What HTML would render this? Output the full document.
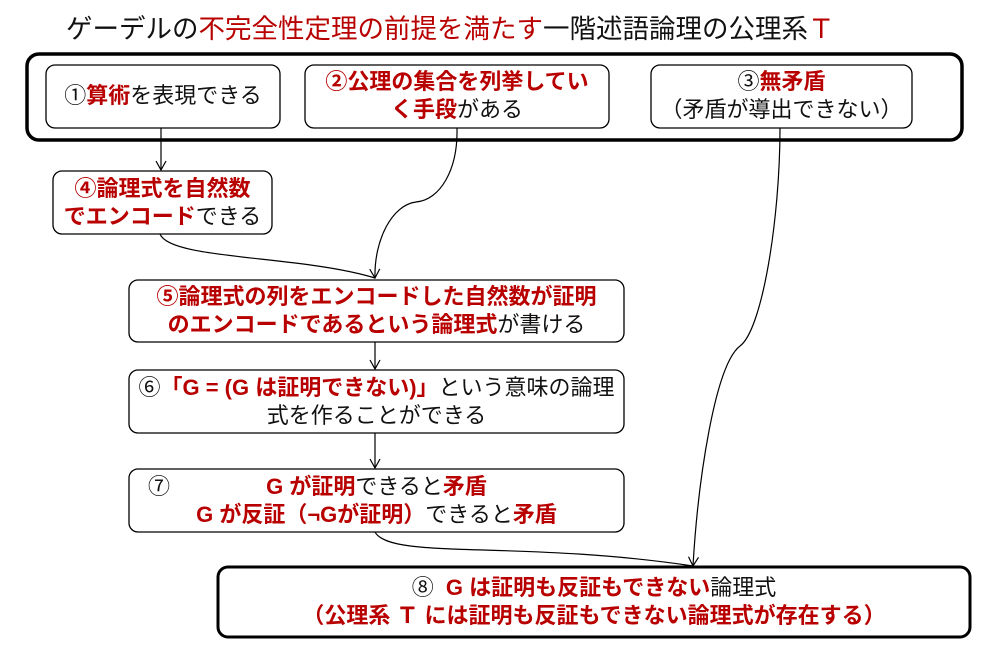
<!DOCTYPE html>
<html><head><meta charset="utf-8">
<style>
html,body{margin:0;padding:0;background:#fff;}
#c{position:relative;width:987px;height:653px;overflow:hidden;font-family:"Liberation Sans","Noto Sans CJK JP",sans-serif;color:#111;}
.t{position:absolute;text-align:center;font-size:22px;line-height:28px;white-space:nowrap;}
.r{color:#b80000;font-weight:bold;}
svg{position:absolute;left:0;top:0;}
</style></head><body><div id="c">
<svg width="987" height="653" viewBox="0 0 987 653">
<defs><marker id="a" markerWidth="12" markerHeight="12" refX="11" refY="6" orient="auto" markerUnits="userSpaceOnUse">
<path d="M2,1 L11,6 L2,11" fill="none" stroke="#000" stroke-width="1.2"/></marker></defs>
<g fill="#fff" stroke="#000">
<rect x="27" y="54" width="935" height="86" rx="12" stroke-width="3.5"/>
<rect x="46" y="65" width="234" height="63" rx="9" stroke-width="1.3"/>
<rect x="305" y="65" width="304" height="63" rx="9" stroke-width="1.3"/>
<rect x="651" y="65" width="261" height="63" rx="9" stroke-width="1.3"/>
<rect x="53" y="171" width="219" height="63" rx="9" stroke-width="1.3"/>
<rect x="129" y="280" width="495" height="62" rx="9" stroke-width="1.3"/>
<rect x="129" y="370" width="495" height="63" rx="9" stroke-width="1.3"/>
<rect x="129" y="469" width="495" height="63" rx="9" stroke-width="1.3"/>
<rect x="218" y="567" width="752" height="70" rx="10" stroke-width="3"/>
</g>
<g fill="none" stroke="#000" stroke-width="1.2">
<path d="M161,128 L161,170" marker-end="url(#a)"/>
<path d="M457,128 C458,170 440,200 416,202 C392,205 374,240 375,278" marker-end="url(#a)"/>
<path d="M160,234 C170,260 300,255 375,278"/>
<path d="M780,128 C780,220 762,330 740,346 C715,365 698,480 693,566" marker-end="url(#a)"/>
<path d="M375,342 L375,369" marker-end="url(#a)"/>
<path d="M375,433 L375,468" marker-end="url(#a)"/>
<path d="M375,532 C390,560 520,540 693,566"/>
</g>
</svg>
<div class="t" style="left:66px;top:12px;font-size:26.5px;line-height:34px;text-align:left;">ゲーデルの<span class="r" style="font-weight:normal">不完全性定理の前提を満たす</span>一階述語論理の公理系<span class="r" style="font-weight:normal">Ｔ</span></div>
<div class="t" style="left:46px;top:82px;width:234px;">①<span class="r">算術</span>を表現できる</div>
<div class="t" style="left:305px;top:68px;width:304px;"><span class="r">②公理の集合を列挙してい</span><br><span class="r">く手段</span>がある</div>
<div class="t" style="left:651px;top:68px;width:261px;">③<span class="r">無矛盾</span><br>（矛盾が導出できない）</div>
<div class="t" style="left:53px;top:175px;width:219px;"><span class="r">④論理式を自然数</span><br><span class="r">でエンコード</span>できる</div>
<div class="t" style="left:129px;top:283px;width:495px;"><span class="r">⑤論理式の列をエンコードした自然数が証明</span><br><span class="r">のエンコードであるという論理式</span>が書ける</div>
<div class="t" style="left:129px;top:374px;width:495px;">⑥<span class="r">「G = (G は証明できない)」</span>という意味の論理<br>式を作ることができる</div>
<div class="t" style="left:148px;top:473px;text-align:left;">⑦</div>
<div class="t" style="left:129px;top:473px;width:495px;"><span class="r">G が証明</span>できると<span class="r">矛盾</span><br><span class="r">G が反証（¬Gが証明）</span>できると<span class="r">矛盾</span></div>
<div class="t" style="left:218px;top:574px;width:752px;">⑧&nbsp; <span class="r">G は証明も反証もできない</span>論理式<br><span class="r">（公理系 Ｔ には証明も反証もできない論理式が存在する）</span></div>
</div></body></html>
